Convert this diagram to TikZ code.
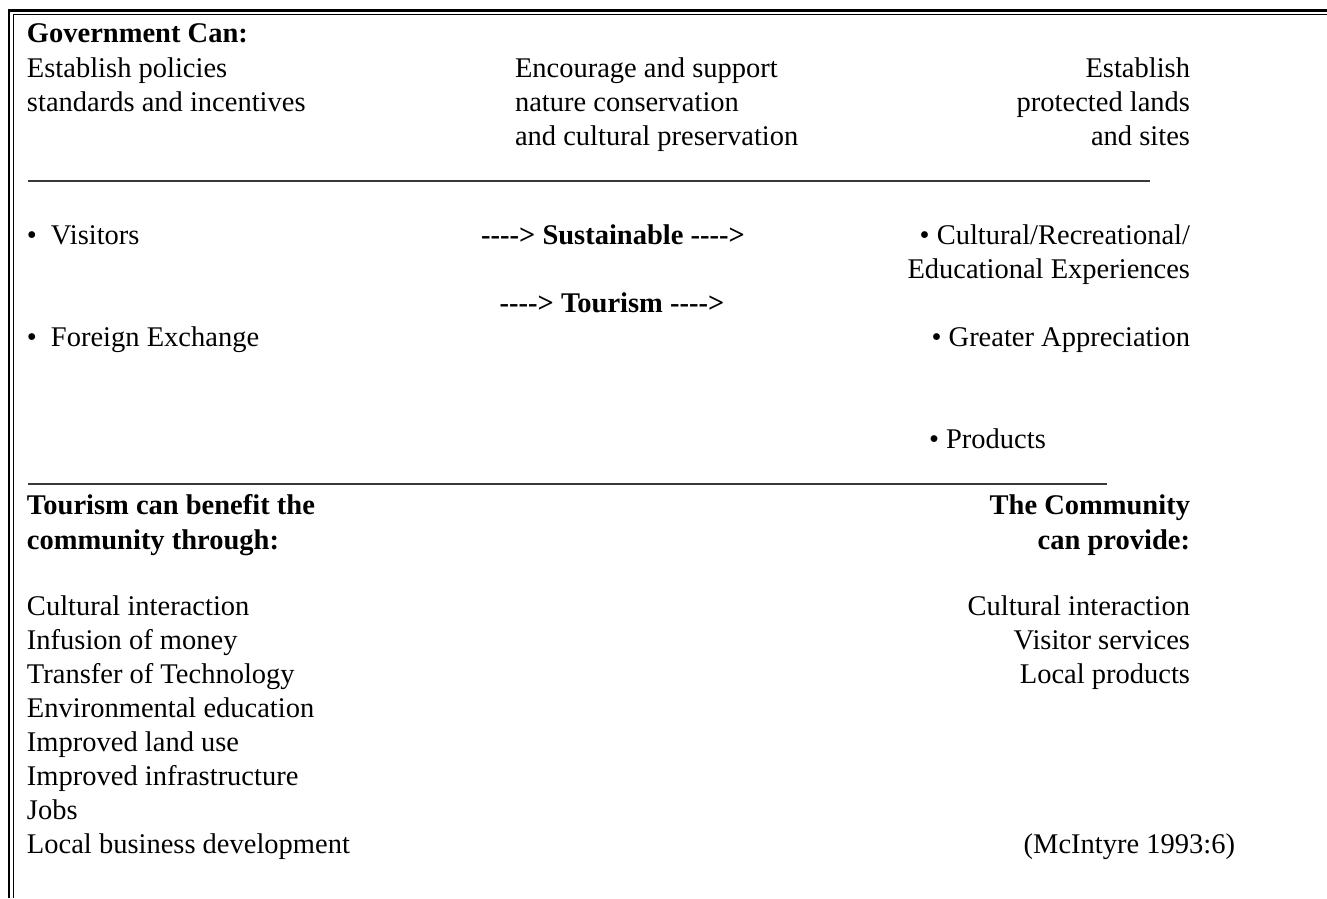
\documentclass[tikz,border=0pt]{standalone}
\usepackage{fontspec}
\setmainfont{Liberation Serif}
\newcommand{\dasharr}{-\kern0pt-\kern0pt-\kern0pt-\kern0pt>}
\begin{document}
\begin{tikzpicture}[x=1pt,y=-1pt,
  txt/.style={inner sep=0pt, outer sep=0pt, font=\fontsize{28.5}{34}\selectfont},
  lt/.style={txt, anchor=base west},
  rt/.style={txt, anchor=base east},
  lb/.style={lt, font=\fontsize{28.5}{34}\selectfont\bfseries},
  rb/.style={rt, font=\fontsize{28.5}{34}\selectfont\bfseries},
  cb/.style={txt, anchor=base, font=\fontsize{28.5}{34}\selectfont\bfseries},
  sepline/.style={line width=1.7pt, draw=black!78},
  outerrule/.style={line width=2.2pt},
  innerrule/.style={line width=1.3pt}]
\useasboundingbox (0,0) rectangle (1327,898);
% frame
\coordinate (fo1) at (9,898); \coordinate (fo2) at (9,10.5); \coordinate (fo3) at (1327,10.5);
\coordinate (fi1) at (13.2,898); \coordinate (fi2) at (13.2,14.6); \coordinate (fi3) at (1327,14.6);
\draw[outerrule] (fo1) -- (fo2) -- (fo3);
\draw[innerrule] (fi1) -- (fi2) -- (fi3);
% top section
\node[lb] (gov) at (27,42) {Government Can:};
\node[lt] (a1) at (27,77) {Establish policies};
\node[lt] (a2) at (27,111) {standards and incentives};
\node[lt] (b1) at (515,77) {Encourage and support};
\node[lt] (b2) at (515,111) {nature conservation};
\node[lt] (b3) at (515,145) {and cultural preservation};
\node[rt] (c1) at (1190,77) {Establish};
\node[rt] (c2) at (1190,111) {protected lands};
\node[rt] (c3) at (1190,145) {and sites};
\coordinate (s1a) at (28,181); \coordinate (s1b) at (1150,181);
\draw[sepline] (s1a) -- (s1b);
% middle section
\node[lt] (vis) at (27,244) {\makebox[24pt][l]{•}Visitors};
\node[lt] (fx) at (27,346) {\makebox[24pt][l]{•}Foreign Exchange};
\node[cb] (sust) at (613,244) {\dasharr{} Sustainable \dasharr};
\node[cb] (tour) at (612,312) {\dasharr{} Tourism \dasharr};
\node[rt] (r1) at (1190,244) {• Cultural/Recreational/};
\node[rt] (r2) at (1190,278) {Educational Experiences};
\node[rt] (r3) at (1190,346) {• Greater Appreciation};
\node[lt] (r4) at (929,448) {• Products};
\coordinate (s2a) at (28,484); \coordinate (s2b) at (1107,484);
\draw[sepline] (s2a) -- (s2b);
% bottom section
\node[lb] (t1) at (27,514) {Tourism can benefit the};
\node[lb] (t2) at (27,549) {community through:};
\node[rb] (p1) at (1190,514) {The Community};
\node[rb] (p2) at (1190,549) {can provide:};
\node[lt] (l1) at (27,615) {Cultural interaction};
\node[lt] (l2) at (27,649) {Infusion of money};
\node[lt] (l3) at (27,683) {Transfer of Technology};
\node[lt] (l4) at (27,717) {Environmental education};
\node[lt] (l5) at (27,751) {Improved land use};
\node[lt] (l6) at (27,785) {Improved infrastructure};
\node[lt] (l7) at (27,819) {Jobs};
\node[lt] (l8) at (27,853) {Local business development};
\node[rt] (m1) at (1190,615) {Cultural interaction};
\node[rt] (m2) at (1190,649) {Visitor services};
\node[rt] (m3) at (1190,683) {Local products};
\node[rt] (cite) at (1235,853) {(McIntyre 1993:6)};
\end{tikzpicture}
\end{document}
